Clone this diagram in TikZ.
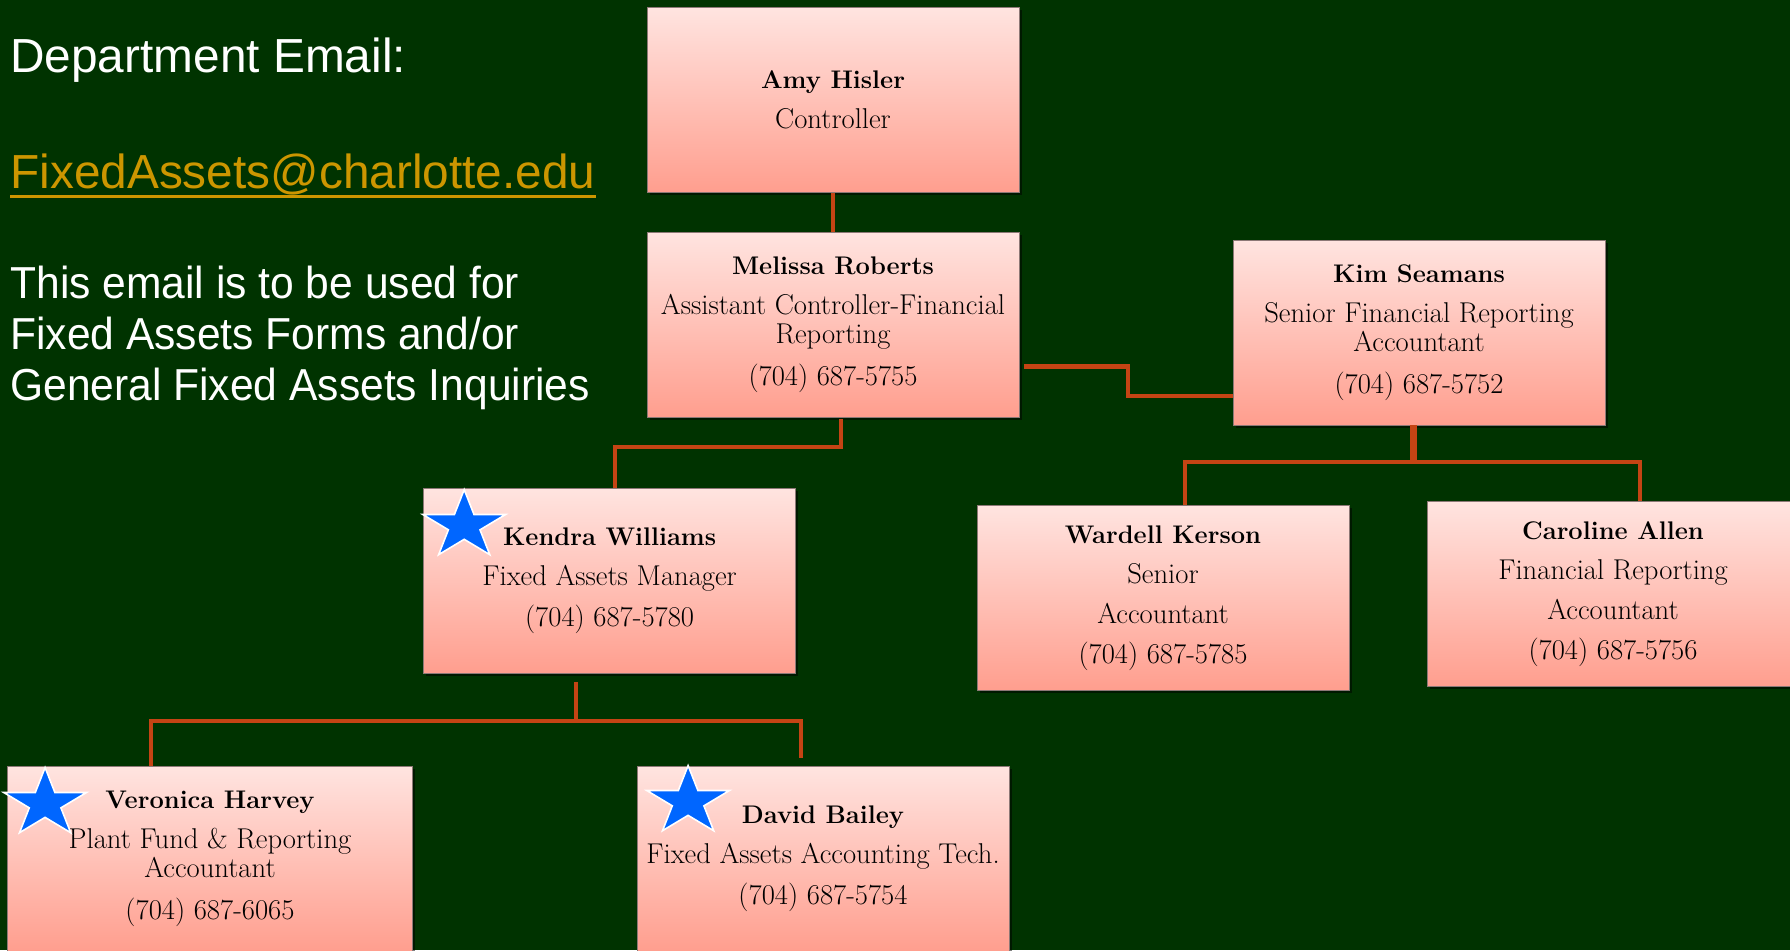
\documentclass[tikz,border=0pt]{standalone}
\usepackage{fontspec}
\newfontfamily\arialfont{Liberation Sans}
\newfontfamily\arialnarrow{Liberation Sans}[FakeStretch=0.95]
\usetikzlibrary{shapes.geometric, shadows}
\definecolor{bggreen}{RGB}{0,51,0}
\definecolor{linkred}{RGB}{196,68,20}
\definecolor{boxtop}{RGB}{255,228,224}
\definecolor{boxbottom}{RGB}{255,158,142}
\definecolor{boxline}{RGB}{140,120,118}
\definecolor{mailgold}{RGB}{204,150,0}
\definecolor{starblue}{RGB}{0,102,255}
\newcommand{\who}[1]{{\fontsize{14.5}{16.5}\selectfont\textbf{#1}}}
\tikzset{
  person/.style={rectangle, draw=boxline, line width=0.5pt,
    top color=boxtop, bottom color=boxbottom,
    minimum width=7.44cm, minimum height=3.7cm, inner sep=0pt,
    align=center, font=\fontsize{16.3}{16.5}\selectfont,
    drop shadow={opacity=0.5, fill=black, shadow xshift=1.5pt, shadow yshift=-1.5pt}},
  badge/.style={star, star points=5, star point ratio=2.618, xscale=1.21,
    minimum size=1.44cm, inner sep=0pt, fill=starblue, draw=white, line width=0.9pt},
  link/.style={draw=linkred, line width=2.3pt},
  sidetext/.style={font=\arialfont\fontsize{27.2}{32}\selectfont, text=white,
    inner sep=0pt, anchor=base west},
  usetext/.style={sidetext, font=\arialnarrow\fontsize{25.5}{30}\selectfont}
}

\begin{document}
\begin{tikzpicture}[x=0.02cm, y=-0.02cm]
    \fill[bggreen] (0,0) rectangle (1790,950);
    \useasboundingbox (0,0) rectangle (1790,950);

    % left column
    \node[sidetext] (heading) at (10,72) {Department Email:};
    \node[sidetext, text=mailgold] (mail) at (10,188) {FixedAssets@charlotte.edu};
    \draw[mailgold, line width=1.7pt] ([yshift=-4.8pt]mail.base west) -- ([yshift=-4.8pt]mail.base east);
    \node[usetext] (usage1) at (10,298) {This email is to be used for};
    \node[usetext] (usage2) at (10,349) {Fixed Assets Forms and/or};
    \node[usetext] (usage3) at (10,400) {General Fixed Assets Inquiries};

    % boxes
    \node[person] (amy) at (833,100) {\who{Amy Hisler}\\[6.3pt] Controller};
    \node[person] (melissa) at (833,324.5) {\who{Melissa Roberts}\\[6.3pt]
        Assistant Controller-Financial\\ Reporting\\[7.3pt] (704) 687-5755};
    \node[person] (kim) at (1419,332.5) {\who{Kim Seamans}\\[6.3pt]
        Senior Financial Reporting\\ Accountant\\[7.3pt] (704) 687-5752};
    \node[person] (kendra) at (609.6,581) {\who{Kendra Williams}\\[6.3pt]
        Fixed Assets Manager\\[6.8pt] (704) 687-5780};
    \node[person] (wardell) at (1163,598) {\who{Wardell Kerson}\\[6.3pt]
        Senior\\[6.3pt] Accountant\\[6.3pt] (704) 687-5785};
    \node[person] (caroline) at (1613,594) {\who{Caroline Allen}\\[6.3pt]
        Financial Reporting\\[6.3pt] Accountant\\[6.3pt] (704) 687-5756};
    \node[person, minimum width=8.1cm] (veronica) at (210,859) {\who{Veronica Harvey}\\[6.3pt]
        Plant Fund \& Reporting\\ Accountant\\[7.3pt] (704) 687-6065};
    \node[person] (david) at (823,859) {\who{David Bailey}\\[6.3pt]
        Fixed Assets Accounting Tech.\\[6.8pt] (704) 687-5754};

    % stars
    \node[badge] (kendrastar) at ([shift={(41,37.5)}]kendra.north west) {};
    \node[badge] (veronicastar) at ([shift={(38,37.5)}]veronica.north west) {};
    \node[badge] (davidstar) at ([shift={(51.5,35.5)}]david.north west) {};

    % connectors
    \draw[link] (amy.south) -- (melissa.north);
    \draw[link] ([shift={(8,2)}]melissa.south) -- ++(0,28) -| ([shift={(5,0)}]kendra.north);
    \draw[link] ([shift={(5,42)}]melissa.east) -- ++(104,0) |- ([shift={(0,63.5)}]kim.west);

    \draw[link, line width=4pt] ([shift={(-6,0)}]kim.south) -- ++(0,37) coordinate (kimjoin);
    \draw[link] ([shift={(22,0)}]wardell.north) |- (kimjoin) -| ([shift={(27,0)}]caroline.north);

    \draw[link] ([shift={(-34,8)}]kendra.south) -- ++(0,39) coordinate (kendrajoin);
    \draw[link] ([shift={(-59,0)}]veronica.north) |- (kendrajoin) -| ([shift={(-22,-8)}]david.north);
\end{tikzpicture}
\end{document}
